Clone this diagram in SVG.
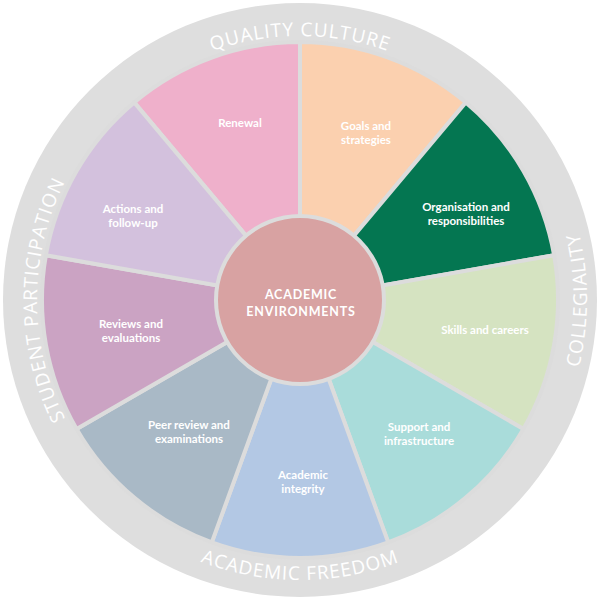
<svg xmlns="http://www.w3.org/2000/svg" xmlns:xlink="http://www.w3.org/1999/xlink" width="600" height="600" viewBox="0 0 600 600">
<style>
.w{stroke:#DCDCDC;stroke-width:4;stroke-linejoin:round}
.lb{font-family:Lato,"Open Sans",sans-serif;font-weight:bold;font-size:11.5px;fill:#fff;text-anchor:middle}
.ring{font-family:"Open Sans","DejaVu Sans",sans-serif;font-size:19px;fill:#fff;letter-spacing:1px}
</style>
<defs>
<path id="pTop" d="M36,300 A264,264 0 0 1 564,300"/>
<path id="pBot" d="M20,300 A280,280 0 0 0 580,300"/>
<path id="pLeft" d="M300,563 A263,263 0 0 1 300,37"/>
<path id="pRight" d="M300,587 A287,287 0 0 0 300,13"/>
</defs>
<rect width="600" height="600" fill="#fff"/>
<circle cx="300" cy="300" r="297" fill="#DEDEDE"/>
<g id="ringlabels">
<text class="ring"><textPath xlink:href="#pTop" href="#pTop" startOffset="50%" text-anchor="middle">QUALITY CULTURE</textPath></text>
<text class="ring"><textPath xlink:href="#pBot" href="#pBot" startOffset="50%" text-anchor="middle">ACADEMIC FREEDOM</textPath></text>
<text class="ring"><textPath xlink:href="#pLeft" href="#pLeft" startOffset="50%" text-anchor="middle">STUDENT PARTICIPATION</textPath></text>
<text class="ring"><textPath xlink:href="#pRight" href="#pRight" startOffset="50%" text-anchor="middle">COLLEGIALITY</textPath></text>
</g>
<g id="renewal"><path class="w" fill="#EFB0CB" d="M300,300 L134.2,102.4 A258,258 0 0 1 300,42 Z"/><text class="lb" x="240" y="127">Renewal</text></g>
<g id="goals"><path class="w" fill="#FBD0AF" d="M300,300 L300,42 A258,258 0 0 1 465.8,102.4 Z"/><text class="lb" x="366" y="130">Goals and</text><text class="lb" x="366" y="144">strategies</text></g>
<g id="organisation"><path class="w" fill="#047651" d="M300,300 L465.8,102.4 A258,258 0 0 1 554.1,255.2 Z"/><text class="lb" x="466" y="211">Organisation and</text><text class="lb" x="466" y="225">responsibilities</text></g>
<g id="skills"><path class="w" fill="#D5E3C1" d="M300,300 L554.1,255.2 A258,258 0 0 1 523.4,429 Z"/><text class="lb" x="485" y="334">Skills and careers</text></g>
<g id="support"><path class="w" fill="#A9DCDA" d="M300,300 L523.4,429 A258,258 0 0 1 388.2,542.4 Z"/><text class="lb" x="419" y="431">Support and</text><text class="lb" x="419" y="445">infrastructure</text></g>
<g id="integrity"><path class="w" fill="#B3C8E4" d="M300,300 L388.2,542.4 A258,258 0 0 1 211.8,542.4 Z"/><text class="lb" x="303" y="479">Academic</text><text class="lb" x="303" y="493">integrity</text></g>
<g id="peer"><path class="w" fill="#A9B9C6" d="M300,300 L211.8,542.4 A258,258 0 0 1 76.6,429 Z"/><text class="lb" x="189" y="429">Peer review and</text><text class="lb" x="189" y="443">examinations</text></g>
<g id="reviews"><path class="w" fill="#CBA3C3" d="M300,300 L76.6,429 A258,258 0 0 1 45.9,255.2 Z"/><text class="lb" x="131" y="328">Reviews and</text><text class="lb" x="131" y="342">evaluations</text></g>
<g id="actions"><path class="w" fill="#D3C1DD" d="M300,300 L45.9,255.2 A258,258 0 0 1 134.2,102.4 Z"/><text class="lb" x="133" y="213">Actions and</text><text class="lb" x="133" y="227">follow-up</text></g>
<g id="center"><circle cx="300" cy="300" r="84" fill="#D8A2A2" stroke="#DCDCDC" stroke-width="4"/>
<text class="lb" x="301" y="299" style="font-size:12.5px;letter-spacing:0.8px">ACADEMIC</text>
<text class="lb" x="301" y="316" style="font-size:12.5px;letter-spacing:0.8px">ENVIRONMENTS</text></g>
</svg>
